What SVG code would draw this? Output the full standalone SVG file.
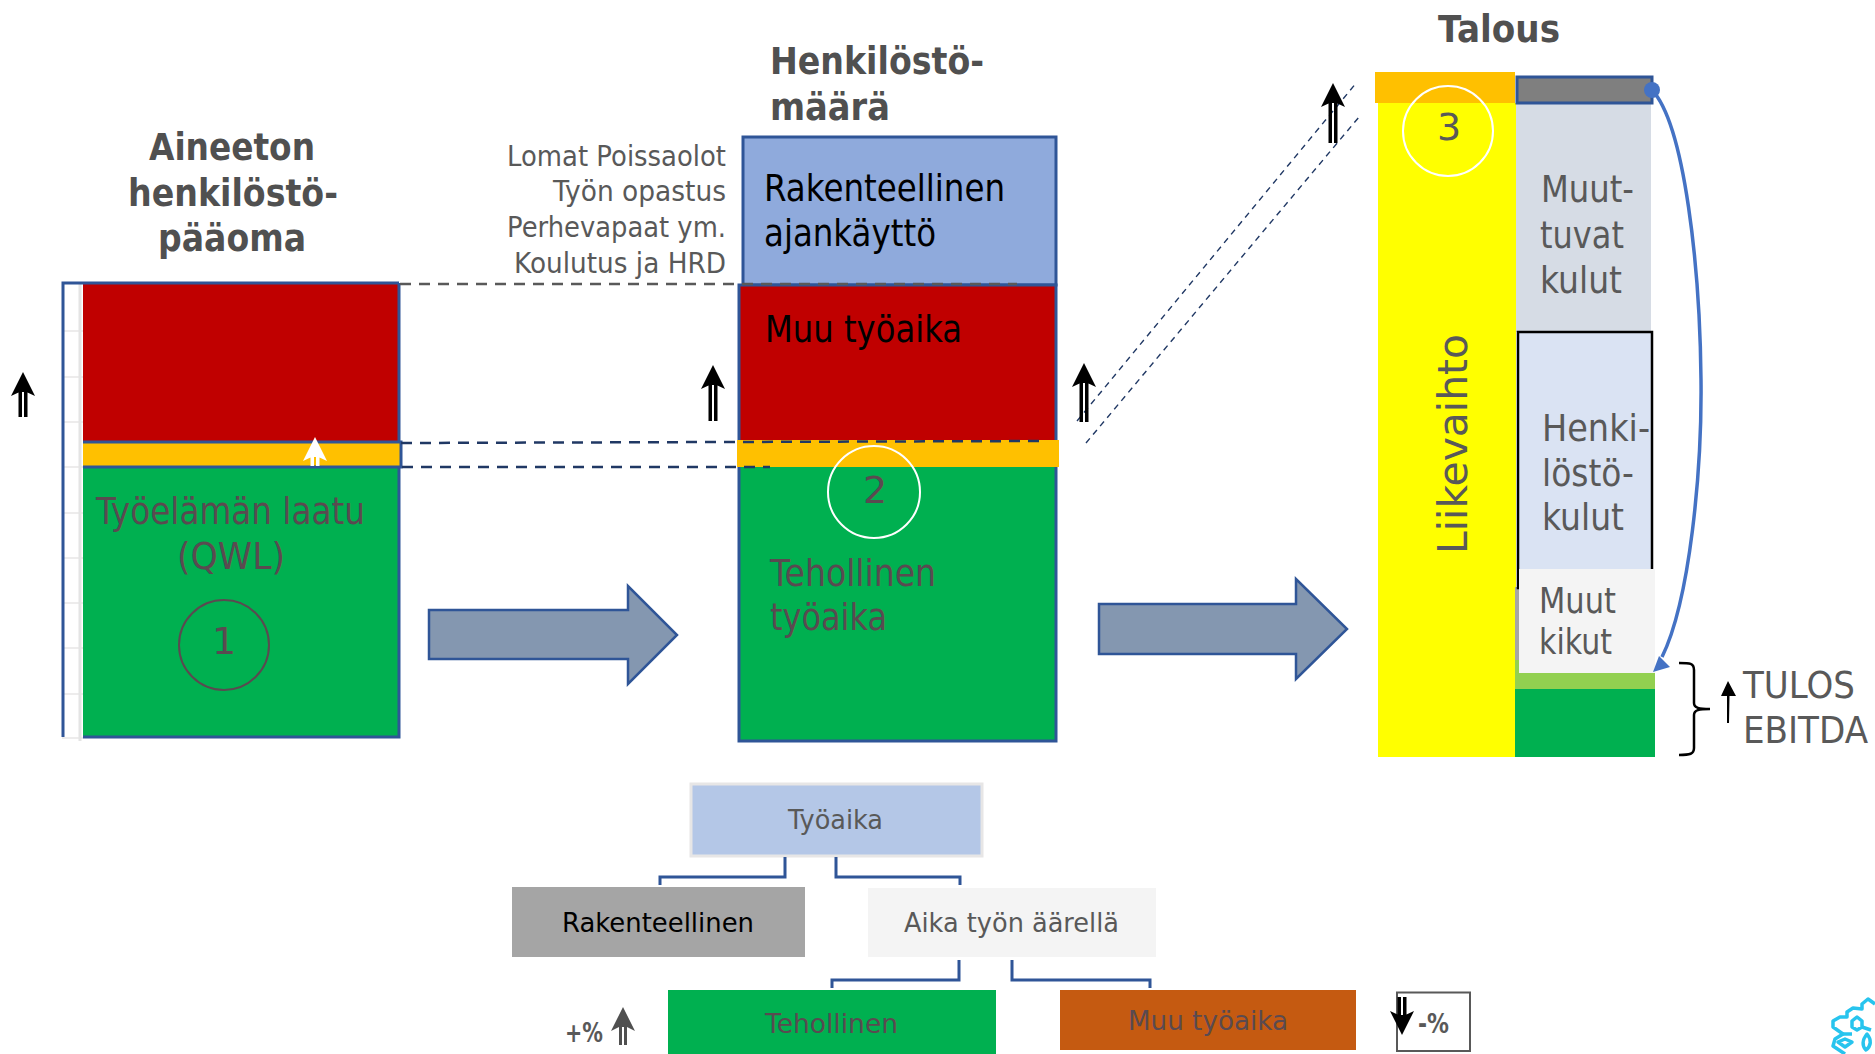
<svg xmlns="http://www.w3.org/2000/svg" width="1875" height="1054" viewBox="0 0 1875 1054">
<style>
text{font-family:"DejaVu Sans","Noto Sans",sans-serif;fill:#595959;font-size:38px}
.h{font-weight:700;font-size:37px;fill:#505050}
.k{fill:#000}
.d{fill:#5a4a50}
.s{font-size:28px}
.m{font-size:27px}
.b{stroke:#2F5597;stroke-width:3}
.arrow{fill:#8497B0;stroke:#2F5597;stroke-width:2.5}
.conn{fill:none;stroke:#2F5597;stroke-width:3}
.grid{stroke:#E7E6E6;stroke-width:1.5}
.ring{fill:none;stroke-width:2}
.dash{fill:none;stroke-dasharray:11 8;stroke-width:2.5}
.dia{fill:none;stroke:#203864;stroke-width:1.4;stroke-dasharray:6 5}
.flake{fill:none;stroke:#27C4EE;stroke-width:3.5;stroke-linejoin:round}
</style>
<rect width="1875" height="1054" fill="#fff"/>

<g id="node-qwl">
<rect x="62" y="283" width="21" height="454" fill="#fff"/>
<path class="grid" d="M62,331H83M62,377H83M62,422H83M62,467H83M62,513H83M62,558H83M62,603H83M62,648H83M62,694H83M62,738H83"/>
<path d="M80,284V741" stroke="#E4E4E4" stroke-width="3" fill="none"/>
<rect x="83" y="283" width="316" height="159" fill="#C00000"/>
<rect x="83" y="467" width="316" height="270" fill="#00B050"/>
<path d="M399,283H63V737M83,737H399V283" class="b" fill="none"/>
<rect x="83" y="442" width="318" height="25" fill="#FFC000"/>
<path d="M83,442H401V467H83" class="b" fill="none"/>
<text class="d" x="96" y="524" textLength="269" lengthAdjust="spacingAndGlyphs">Työelämän laatu</text>
<text class="d" x="177" y="569" textLength="108" lengthAdjust="spacingAndGlyphs">(QWL)</text>
<circle class="ring" cx="224" cy="645" r="45" stroke="#5a4a50"/>
<text class="d" x="224" y="654" text-anchor="middle">1</text>
</g>

<g id="node-henkilosto">
<rect x="743" y="137" width="313" height="148" fill="#8FAADC" class="b"/>
<rect x="739" y="285" width="317" height="155" fill="#C00000"/>
<rect x="739" y="467" width="317" height="274" fill="#00B050"/>
<path d="M739,285H1056V741H739Z" class="b" fill="none"/>
<rect x="737" y="440" width="322" height="27" fill="#FFC000"/>
<text class="k" x="764" y="201" textLength="241" lengthAdjust="spacingAndGlyphs">Rakenteellinen</text>
<text class="k" x="764" y="246" textLength="172" lengthAdjust="spacingAndGlyphs">ajankäyttö</text>
<text class="k" x="765" y="342" textLength="197" lengthAdjust="spacingAndGlyphs">Muu työaika</text>
<text class="d" x="770" y="586" textLength="166" lengthAdjust="spacingAndGlyphs">Tehollinen</text>
<text class="d" x="770" y="630" textLength="117" lengthAdjust="spacingAndGlyphs">työaika</text>
<circle class="ring" cx="874" cy="492" r="46" stroke="#fff"/>
<text class="d" x="875" y="503" text-anchor="middle">2</text>
</g>

<g id="node-talous">
<rect x="1378" y="103" width="138" height="654" fill="#FFFF00"/>
<rect x="1375" y="72" width="140" height="31" fill="#FFC000"/>
<rect x="1516" y="104" width="135" height="228" fill="#D6DCE5"/>
<rect x="1515" y="587" width="6" height="74" fill="#A5A5A5"/>
<rect x="1518" y="332" width="134" height="256" fill="#DAE3F3" stroke="#000" stroke-width="2.5"/>
<rect x="1515" y="660" width="140" height="30" fill="#92D050"/>
<rect x="1515" y="689" width="140" height="68" fill="#00B050"/>
<rect x="1519" y="569" width="136" height="104" fill="#F4F4F4"/>
<rect x="1517" y="77" width="135" height="26" fill="#7F7F7F" class="b"/>
<circle class="ring" cx="1448" cy="131" r="45" stroke="#fff"/>
<text x="1449" y="140" text-anchor="middle">3</text>
<text transform="translate(1467,554) rotate(-90)" style="font-size:41px" textLength="220" lengthAdjust="spacingAndGlyphs">Liikevaihto</text>
<text x="1541" y="202" textLength="93" lengthAdjust="spacingAndGlyphs">Muut-</text>
<text x="1540" y="248" textLength="84" lengthAdjust="spacingAndGlyphs">tuvat</text>
<text x="1540" y="293" textLength="82" lengthAdjust="spacingAndGlyphs">kulut</text>
<text x="1542" y="441" textLength="108" lengthAdjust="spacingAndGlyphs">Henki-</text>
<text x="1542" y="486" textLength="92" lengthAdjust="spacingAndGlyphs">löstö-</text>
<text x="1542" y="530" textLength="82" lengthAdjust="spacingAndGlyphs">kulut</text>
<text style="font-size:36px" x="1539" y="613" textLength="77" lengthAdjust="spacingAndGlyphs">Muut</text>
<text style="font-size:36px" x="1539" y="654" textLength="73" lengthAdjust="spacingAndGlyphs">kikut</text>
<text x="1743" y="698" textLength="112" lengthAdjust="spacingAndGlyphs">TULOS</text>
<text transform="translate(1743,743) scale(.9,1)">EBITDA</text>
</g>

<g id="titles">
<text class="h" x="149" y="160" textLength="166" lengthAdjust="spacingAndGlyphs">Aineeton</text>
<text class="h" x="128" y="206" textLength="210" lengthAdjust="spacingAndGlyphs">henkilöstö-</text>
<text class="h" x="158" y="251" textLength="148" lengthAdjust="spacingAndGlyphs">pääoma</text>
<text class="h" x="770" y="74" textLength="214" lengthAdjust="spacingAndGlyphs">Henkilöstö-</text>
<text class="h" x="770" y="120" textLength="120" lengthAdjust="spacingAndGlyphs">määrä</text>
<text class="h" x="1438" y="42" textLength="122" lengthAdjust="spacingAndGlyphs">Talous</text>
</g>

<g id="labels-rakenteellinen">
<text class="s" x="507" y="166" textLength="219" lengthAdjust="spacingAndGlyphs">Lomat Poissaolot</text>
<text class="s" x="553" y="201" textLength="173" lengthAdjust="spacingAndGlyphs">Työn opastus</text>
<text class="s" x="507" y="237" textLength="219" lengthAdjust="spacingAndGlyphs">Perhevapaat ym.</text>
<text class="s" x="514" y="273" textLength="212" lengthAdjust="spacingAndGlyphs">Koulutus ja HRD</text>
</g>

<g id="node-tyoaika"><rect x="691" y="784" width="291" height="72" fill="#B4C7E7" stroke="#E7E6E6" stroke-width="3"/><text class="m" x="788" y="829" textLength="95" lengthAdjust="spacingAndGlyphs">Työaika</text></g>
<g id="node-rakenteellinen"><rect x="512" y="887" width="293" height="70" fill="#A5A5A5"/><text class="m k" x="562" y="932" textLength="192" lengthAdjust="spacingAndGlyphs">Rakenteellinen</text></g>
<g id="node-aika"><rect x="868" y="888" width="288" height="69" fill="#F4F4F4"/><text class="m" x="904" y="932" textLength="215" lengthAdjust="spacingAndGlyphs">Aika työn äärellä</text></g>
<g id="node-tehollinen"><rect x="668" y="990" width="328" height="64" fill="#00B050"/><text class="m d" x="765" y="1033" textLength="133" lengthAdjust="spacingAndGlyphs">Tehollinen</text></g>
<g id="node-muu"><rect x="1060" y="990" width="296" height="60" fill="#C55A11"/><text class="m d" x="1128" y="1030" textLength="160" lengthAdjust="spacingAndGlyphs">Muu työaika</text></g>
<g id="node-minus">
<rect x="1397" y="992.500" width="73" height="58.500" fill="#fff" stroke="#595959" stroke-width="2"/>
<text x="1418" y="1033" style="font-size:26px;font-weight:700" textLength="31" lengthAdjust="spacingAndGlyphs">-%</text>
</g>
<text id="plus" x="565" y="1042" style="font-size:26px;font-weight:700" textLength="38" lengthAdjust="spacingAndGlyphs">+%</text>

<g id="connectors">
<path class="dash" stroke="#595959" d="M400,284H1017"/>
<path class="dash" stroke="#203864" d="M401,443L1045,441"/>
<path class="dash" stroke="#203864" d="M402,467H770"/>
<path class="dia" d="M1077,421L1357,82"/>
<path class="dia" d="M1086,443L1359,117"/>
<path class="arrow" d="M429,610H628V586L677,635L628,684V659H429Z"/>
<path class="arrow" d="M1099,604H1296V579L1347,629L1296,679V654H1099Z"/>
<path class="conn" d="M785,857V877H660V885"/>
<path class="conn" d="M836,857V877H960V885"/>
<path class="conn" d="M959,960V980H832V988"/>
<path class="conn" d="M1012,960V980H1150V988"/>
<path fill="none" stroke="#4472C4" stroke-width="3.500" d="M1652,90C1685,125 1700,270 1701,380C1702,470 1690,600 1662,657"/>
<circle cx="1652" cy="90" r="8" fill="#4472C4"/>
<path d="M1653,672L1659,656L1670,667Z" fill="#4472C4"/>
<path d="M1679,663C1690,663 1694,663 1694,670V703C1694,708 1699,709 1710,709C1699,709 1694,710 1694,715V748C1694,754 1690,755 1679,755" fill="none" stroke="#000" stroke-width="2.500"/>
<path transform="translate(23,372)" d="M0,0L12,24L4.500,20.500V45H1V20H-1V45H-4.500V20.500L-12,24Z"/>
<path transform="translate(713,365)" d="M0,0L12,24L4.500,20.500V56H1V20H-1V56H-4.500V20.500L-12,24Z"/>
<path transform="translate(1084,363)" d="M0,0L12,24L4.500,20.500V59H1V20H-1V59H-4.500V20.500L-12,24Z"/>
<path transform="translate(1333,83)" d="M0,0L12,24L4.500,20.500V60H1V20H-1V60H-4.500V20.500L-12,24Z"/>
<path transform="translate(315,437)" fill="#fff" d="M0,0L12,24L4.500,20.500V29H1V20H-1V29H-4.500V20.500L-12,24Z"/>
<path transform="translate(623,1007)" fill="#505050" d="M0,0L12,24L4,20V38H1V20H-1V38H-4V20L-12,24Z"/>
<path transform="translate(1402,1035)" d="M0,0L12,-24L4.500,-20.500V-38H1V-20H-1V-38H-4.500V-20.500L-12,-24Z"/>
<path d="M1728,681L1736,696H1729.500L1729,723H1727L1727,696H1721Z"/>
</g>

<g id="logo">
<path class="flake" d="M1875,1004L1868,999L1862,1004V1009L1853,1008L1847,1012V1017L1840,1017L1833,1021V1027L1843,1034L1835,1039L1833,1046L1845,1054"/>
<path class="flake" d="M1857,1017L1862,1021V1027L1857,1030L1852,1027V1021Z"/>
<path class="flake" d="M1845,1039L1852,1042L1845,1047L1838,1042Z"/>
<path class="flake" d="M1867,1034C1862,1040 1862,1046 1866,1050C1871,1046 1872,1040 1867,1034Z"/>
<path class="flake" d="M1843,1034L1852,1034M1862,1027L1871,1030"/>
</g>
</svg>
